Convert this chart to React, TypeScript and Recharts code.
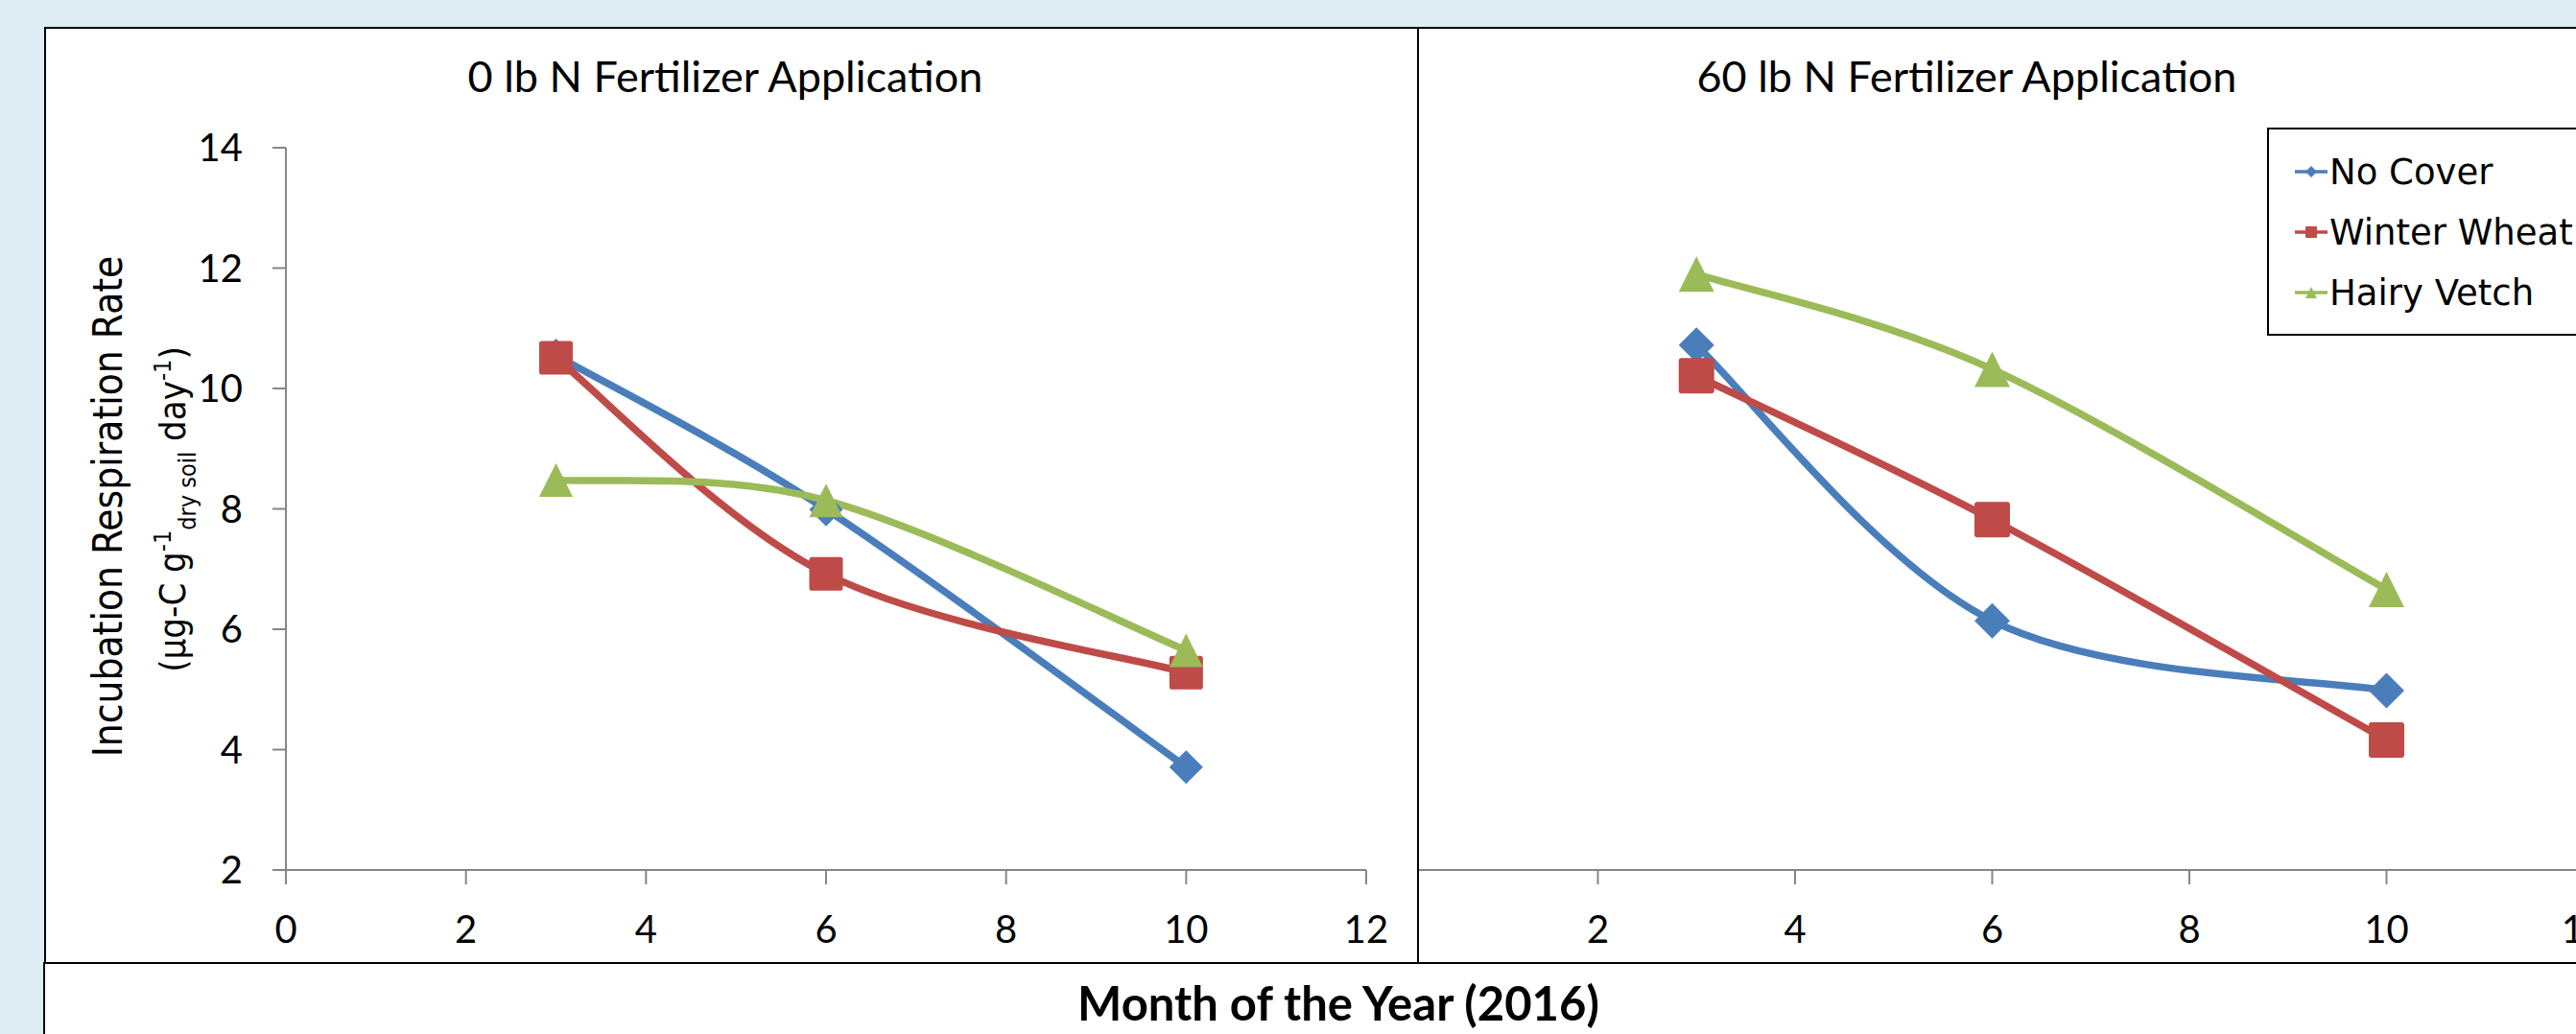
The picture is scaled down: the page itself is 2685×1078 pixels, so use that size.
import React from "react";
import { LineChart, Line, XAxis, YAxis, Legend } from "recharts";

// sampling months (x) and axis ticks
const months = [3, 6, 10];
const monthTicks = [0, 2, 4, 6, 8, 10, 12];
const rateTicks = [2, 4, 6, 8, 10, 12, 14];

// 0 lb N fertilizer
const noCover0 = [10.55, 7.99, 3.71];
const wheat0 = [10.51, 6.92, 5.28];
const vetch0 = [8.48, 8.14, 5.65];

// 60 lb N fertilizer
const noCover60 = [10.72, 6.14, 4.98];
const wheat60 = [10.21, 7.82, 4.16];
const vetch60 = [11.9, 10.32, 6.66];

const BLUE = "#4A7EBB";
const RED = "#BE4B48";
const GREEN = "#9BBB59";
const AXIS = "#868686";
const BG = "#DEECF3";
const TICK_FONT = "Lato, 'Open Sans', sans-serif";
const ALT_FONT = "'DejaVu Sans Condensed', 'DejaVu Sans', sans-serif";

const series = [
  { key: "noCover", name: "No Cover", color: BLUE, shape: "diamond" },
  { key: "wheat", name: "Winter Wheat", color: RED, shape: "square" },
  { key: "vetch", name: "Hairy Vetch", color: GREEN, shape: "triangle" },
];

const rows = (a: number[], b: number[], c: number[]) =>
  months.map((m, i) => ({ month: m, noCover: a[i], wheat: b[i], vetch: c[i] }));

const data0 = rows(noCover0, wheat0, vetch0);
const data60 = rows(noCover60, wheat60, vetch60);

// Excel-style smoothed line (Catmull-Rom through the points)
function excelSmooth(context: any) {
  let pts: [number, number][] = [];
  return {
    areaStart() {},
    areaEnd() {},
    lineStart() {
      pts = [];
    },
    point(x: number, y: number) {
      pts.push([+x, +y]);
    },
    lineEnd() {
      if (!pts.length) return;
      context.moveTo(pts[0][0], pts[0][1]);
      for (let i = 0; i < pts.length - 1; i++) {
        const p0 = pts[Math.max(i - 1, 0)];
        const p1 = pts[i];
        const p2 = pts[i + 1];
        const p3 = pts[Math.min(i + 2, pts.length - 1)];
        context.bezierCurveTo(
          p1[0] + (p2[0] - p0[0]) / 6,
          p1[1] + (p2[1] - p0[1]) / 6,
          p2[0] - (p3[0] - p1[0]) / 6,
          p2[1] - (p3[1] - p1[1]) / 6,
          p2[0],
          p2[1]
        );
      }
    },
  };
}

function marker(shape: string, cx: number, cy: number, s: number, fill: string, key?: any) {
  const h = s / 2;
  if (shape === "diamond")
    return <path key={key} d={`M${cx},${cy - h}L${cx + h},${cy}L${cx},${cy + h}L${cx - h},${cy}Z`} fill={fill} />;
  if (shape === "square")
    return <rect key={key} x={cx - h} y={cy - h} width={s} height={s} rx={s * 0.08} fill={fill} />;
  return <path key={key} d={`M${cx},${cy - h}L${cx + h},${cy + h}L${cx - h},${cy + h}Z`} fill={fill} />;
}

function LegendBox({ payload }: any) {
  const items = series.map((s) => {
    const p = (payload || []).find((d: any) => d.value === s.name);
    return { ...s, color: p?.color || s.color };
  });
  return (
    <div
      style={{
        width: 340,
        height: 217,
        boxSizing: "border-box",
        border: "2.5px solid #000",
        background: "#fff",
        position: "relative",
      }}
    >
      {items.map((s, i) => (
        <div
          key={s.key}
          style={{ position: "absolute", left: 26, top: 22 + 63 * i, height: 44, display: "flex", alignItems: "center" }}
        >
          <svg width={36} height={44}>
            <line x1={1} x2={35} y1={22} y2={22} stroke={s.color} strokeWidth={3.5} />
            {marker(s.shape, 18, 22, 12, s.color)}
          </svg>
          <span style={{ fontFamily: "'DejaVu Sans', sans-serif", fontSize: 37, marginLeft: 1, color: "#000", whiteSpace: "nowrap" }}>
            {s.name}
          </span>
        </div>
      ))}
    </div>
  );
}

function Panel({ data, width, margin, showY, lineWidth, size, legend }: any) {
  return (
    <LineChart width={width} height={1004} data={data} margin={margin}>
      <XAxis
        type="number"
        dataKey="month"
        domain={[0, 12]}
        ticks={monthTicks}
        interval={0}
        height={60}
        tickSize={15}
        tickMargin={33}
        axisLine={{ stroke: AXIS, strokeWidth: 2 }}
        tickLine={{ stroke: AXIS, strokeWidth: 2 }}
        tick={{ fill: "#000", fontSize: 40, fontFamily: TICK_FONT }}
        allowDataOverflow
      />
      <YAxis
        type="number"
        domain={[2, 14]}
        ticks={rateTicks}
        interval={0}
        width={100}
        hide={!showY}
        tickSize={14}
        tickMargin={31}
        axisLine={{ stroke: AXIS, strokeWidth: 2 }}
        tickLine={{ stroke: AXIS, strokeWidth: 2 }}
        tick={{ fill: "#000", fontSize: 40, fontFamily: TICK_FONT }}
        allowDataOverflow
      />
      {series.map((s) => (
        <Line
          key={s.key}
          dataKey={s.key}
          name={s.name}
          type={excelSmooth as any}
          stroke={s.color}
          strokeWidth={lineWidth}
          dot={(p: any) => marker(s.shape, p.cx, p.cy, size, s.color, `${s.key}-${p.index}`)}
          activeDot={false}
          isAnimationActive={false}
        />
      ))}
      {legend && (
        <Legend
          layout="vertical"
          align="center"
          verticalAlign="middle"
          wrapperStyle={{ left: legend.left, top: legend.top, width: 340 }}
          content={<LegendBox />}
        />
      )}
    </LineChart>
  );
}

export default function App() {
  return (
    <div
      style={{
        position: "absolute",
        left: 0,
        top: 0,
        width: 2685,
        height: 1078,
        overflow: "hidden",
        background: BG,
      }}
    >
      {/* chart frame */}
      <div
        style={{
          position: "absolute",
          left: 46,
          top: 28,
          width: 2700,
          height: 978,
          background: "#fff",
          borderLeft: "2px solid #000",
          borderTop: "2.5px solid #000",
          boxSizing: "border-box",
        }}
      />
      <div
        style={{
          position: "absolute",
          left: 45,
          top: 1003,
          width: 2700,
          height: 100,
          background: "#fff",
          borderLeft: "2px solid #000",
          borderTop: "2.5px solid #000",
          boxSizing: "border-box",
        }}
      />

      {/* left panel: 0 lb N */}
      <div style={{ position: "absolute", left: 0, top: 0 }}>
        <Panel data={data0} width={1478} margin={{ top: 154, right: 54, bottom: 37, left: 198 }} showY lineWidth={7.5} size={35} />
      </div>

      {/* right panel: 60 lb N, partly hidden behind the left panel */}
      <div style={{ position: "absolute", left: 1479, top: 0, width: 1206, height: 1003, overflow: "hidden" }}>
        <div style={{ position: "absolute", left: -119, top: 0 }}>
          <Panel
            data={data60}
            width={1400}
            margin={{ top: 154, right: 67, bottom: 37, left: 100 }}
            showY={false}
            lineWidth={7.5}
            size={37}
            legend={{ left: 1003, top: 133 }}
          />
        </div>
      </div>

      {/* panel divider */}
      <div style={{ position: "absolute", left: 1477, top: 28, width: 2, height: 976, background: "#000" }} />

      {/* titles and axis labels */}
      <svg
        width={2685}
        height={1078}
        style={{ position: "absolute", left: 0, top: 0, pointerEvents: "none" }}
      >
        <text x={756} y={96} textAnchor="middle" fontFamily={TICK_FONT} fontSize={45} fill="#000">
          0 lb N Fertilizer Application
        </text>
        <text x={2050} y={96} textAnchor="middle" fontFamily={TICK_FONT} fontSize={45} fill="#000">
          60 lb N Fertilizer Application
        </text>
        <text x={1395} y={1064} textAnchor="middle" fontFamily={TICK_FONT} fontWeight="bold" fontSize={49} fill="#000">
          Month of the Year (2016)
        </text>
        <text
          transform="translate(127,528) rotate(-90)"
          textAnchor="middle"
          fontFamily={ALT_FONT}
          fontSize={42}
          fill="#000"
        >
          Incubation Respiration Rate
        </text>
        <text
          transform="translate(193,531) rotate(-90)"
          textAnchor="middle"
          fontFamily={ALT_FONT}
          fontSize={38}
          fill="#000"
        >
          (µg-C g
          <tspan dy={-15} fontSize={25}>-1</tspan>
          <tspan dy={26} fontSize={25}>dry soil</tspan>
          <tspan dy={-11}> day</tspan>
          <tspan dy={-15} fontSize={25}>-1</tspan>
          <tspan dy={15}>)</tspan>
        </text>
      </svg>
    </div>
  );
}
